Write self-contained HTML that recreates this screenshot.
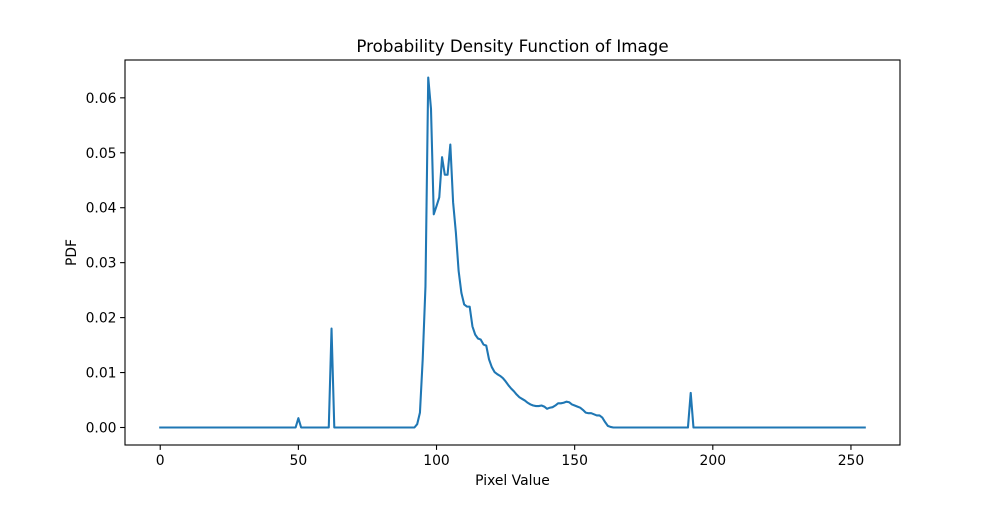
<!DOCTYPE html>
<html><head><meta charset="utf-8"><style>
html,body{margin:0;padding:0;background:#fff;}
svg text{font-family:"DejaVu Sans","Liberation Sans",sans-serif;fill:#000;}
</style></head><body>
<svg id="chart" width="1000" height="500" xmlns="http://www.w3.org/2000/svg">
<rect width="1000" height="500" fill="#fff"/>
<text x="512.5" y="52" font-size="16.7" text-anchor="middle">Probability Density Function of Image</text>
<g id="axes"></g>
<text x="512.5" y="485" font-size="13.9" text-anchor="middle">Pixel Value</text>
<text x="76" y="252.5" font-size="13.9" text-anchor="middle" transform="rotate(-90 76 252.5)">PDF</text>
</svg>
<script>
const xTicks=[0,50,100,150,200,250];
const yTicks=[0,0.01,0.02,0.03,0.04,0.05,0.06];
const yTickLabels=["0.00","0.01","0.02","0.03","0.04","0.05","0.06"];
const spikeValues={50:0.0017,62:0.018,192:0.0063};
const peakStart=93;
const peakValues=[0.0006,0.0027,0.0124,0.0257,0.0637,0.058,0.0388,0.0403,0.0419,0.0492,0.046,0.046,0.0515,0.041,0.0355,0.0285,0.0245,0.0224,0.022,0.022,0.0184,0.0169,0.0162,0.016,0.0151,0.0149,0.0124,0.011,0.0101,0.0097,0.0094,0.009,0.0084,0.0077,0.0071,0.0066,0.006,0.0055,0.0052,0.0049,0.0045,0.0042,0.004,0.0039,0.0039,0.004,0.0038,0.0034,0.0036,0.0037,0.004,0.0044,0.0044,0.0045,0.0047,0.0046,0.0042,0.004,0.0038,0.0036,0.0032,0.0027,0.0026,0.0026,0.0024,0.0022,0.0022,0.0018,0.001,0.0003,0.0001];

const L=125,R=900,T=60,B=445;
const xMin=-12.75,xMax=267.75;
const yMax=0.0637*1.05, yMin=-0.0637*0.05;
const xs=v=>L+(v-xMin)/(xMax-xMin)*(R-L);
const ys=v=>B-(v-yMin)/(yMax-yMin)*(B-T);
const NS="http://www.w3.org/2000/svg";
const g=document.getElementById('axes');
function mk(tag,attrs){const e=document.createElementNS(NS,tag);for(const k in attrs)e.setAttribute(k,attrs[k]);return e;}

const vals=[];
for(let i=0;i<256;i++){
  let v=0;
  if(spikeValues[i]!==undefined)v=spikeValues[i];
  const j=i-peakStart;
  if(j>=0&&j<peakValues.length)v=peakValues[j];
  vals.push(v);
}
const pts=vals.map((v,i)=>xs(i).toFixed(2)+','+ys(v).toFixed(2)).join(' ');
const line=mk('polyline',{points:pts,fill:'none',stroke:'#1f77b4','stroke-width':2.08,'stroke-linejoin':'round','stroke-linecap':'square'});


g.appendChild(line);

const frame=mk('rect',{x:L,y:T,width:R-L,height:B-T,fill:'none',stroke:'#000','stroke-width':1.1});


g.appendChild(frame);

xTicks.forEach(t=>{
  const x=xs(t);
  const tk=mk('line',{x1:x,x2:x,y1:B,y2:B+4.9,stroke:'#000','stroke-width':1.1});
  
  
  g.appendChild(tk);
  const tx=mk('text',{x:x,y:B+20,'font-size':13.9,'text-anchor':'middle'});
  tx.textContent=t;
  
  
  g.appendChild(tx);
});
yTicks.forEach((t,i)=>{
  const y=ys(t);
  const tk=mk('line',{x1:L-4.9,x2:L,y1:y,y2:y,stroke:'#000','stroke-width':1.1});
  
  
  g.appendChild(tk);
  const tx=mk('text',{x:L-8.5,y:y+5,'font-size':13.9,'text-anchor':'end'});
  tx.textContent=yTickLabels[i];
  
  
  g.appendChild(tx);
});
</script>
</body></html>
